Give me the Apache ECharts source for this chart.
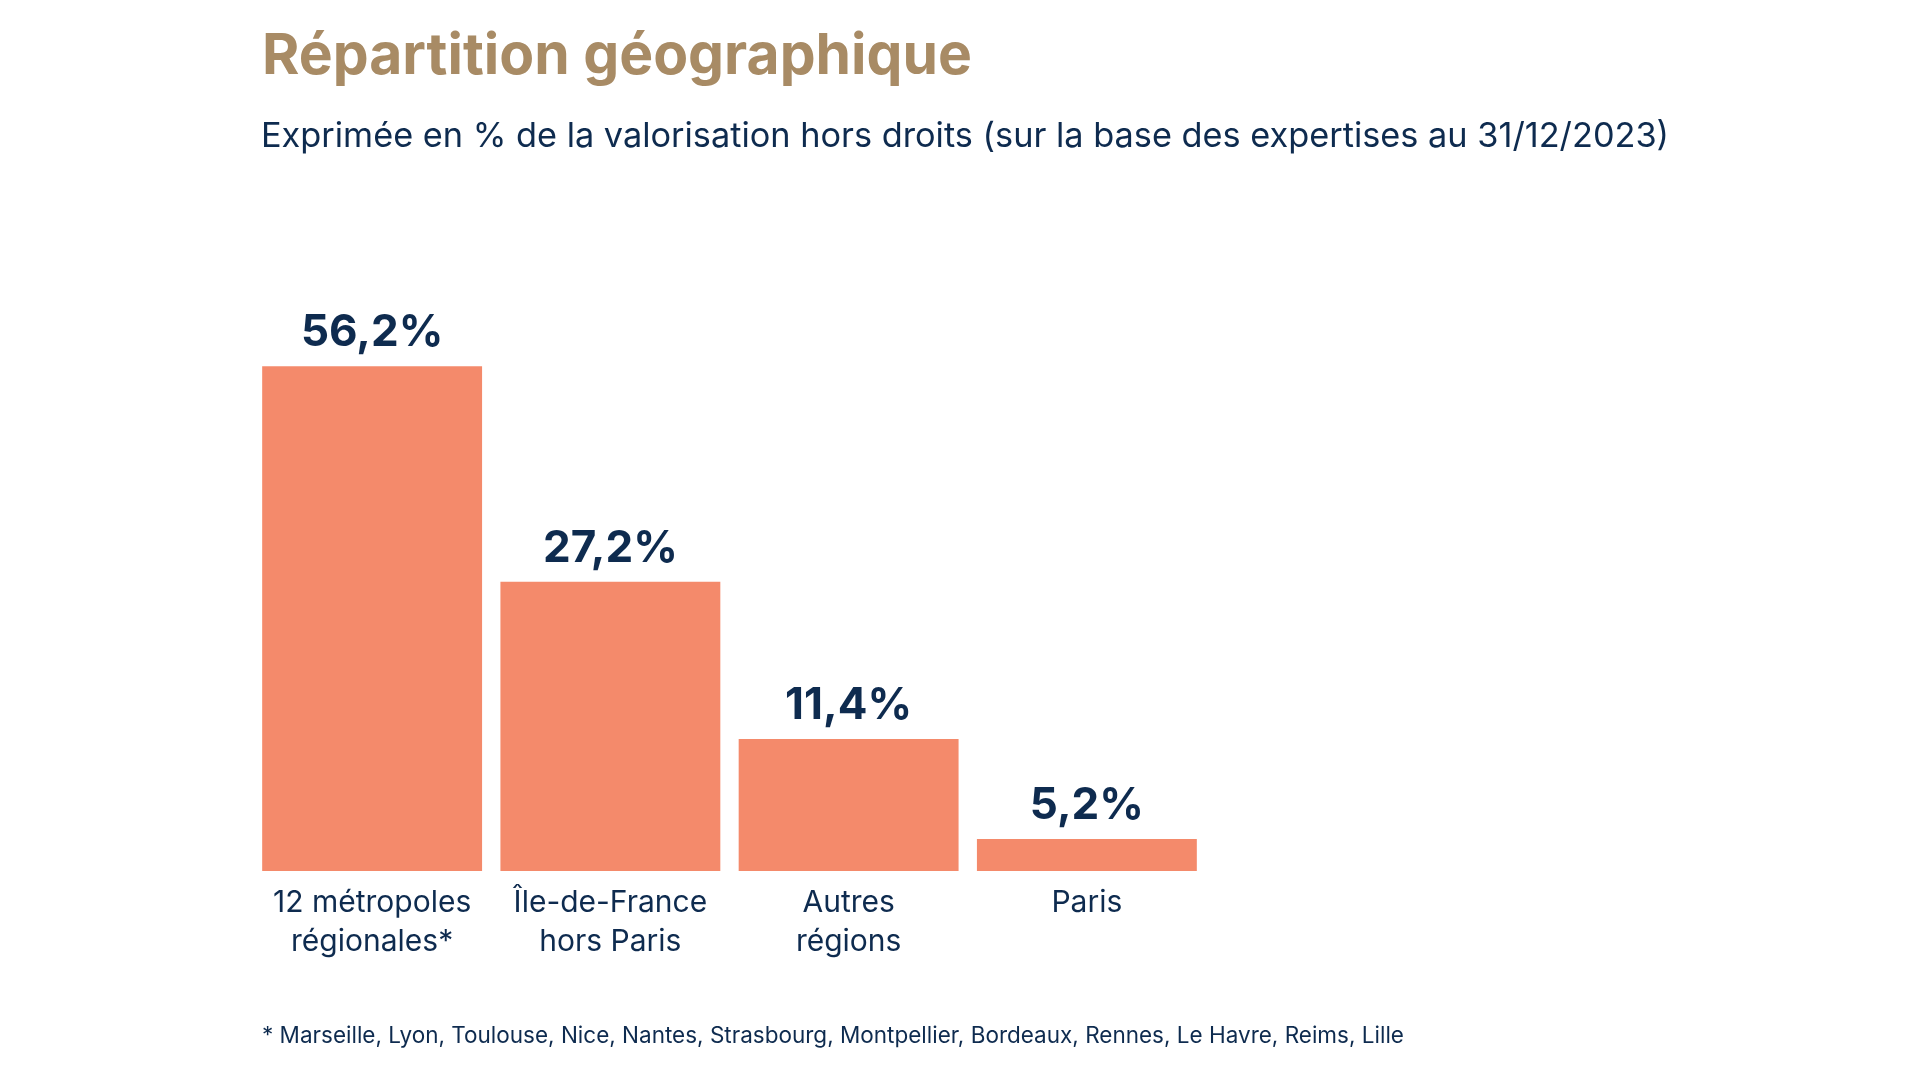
<!DOCTYPE html>
<html>
<head>
<meta charset="utf-8">
<script src="https://cdn.jsdelivr.net/npm/echarts@6/dist/echarts.min.js"></script>
<style>
html,body{margin:0;padding:0;background:#fff;}
#chart{width:1920px;height:1080px;}
</style>
</head>
<body>
<div id="chart"></div>
<script>
// Data
const categories = ['12 métropoles\nrégionales*', 'Île-de-France\nhors Paris', 'Autres\nrégions', 'Paris'];
const shareValues = [56.2, 27.2, 11.4, 5.2];           // % shown above the bars
const drawnBarHeights = [56.2, 32.2, 14.7, 3.55];        // bar heights as drawn in the reference (same % scale)
const titleText = 'Répartition géographique';
const subtitleText = 'Exprimée en % de la valorisation hors droits (sur la base des expertises au 31/12/2023)';
const footnoteText = '* Marseille, Lyon, Toulouse, Nice, Nantes, Strasbourg, Montpellier, Bordeaux, Rennes, Le Havre, Reims, Lille';

const NAVY = '#0E2B4F';
const fmt = v => v.toFixed(1).replace('.', ',') + '%';

const chart = echarts.init(document.getElementById('chart'));
chart.setOption({
  backgroundColor: '#ffffff',
  animation: false,
  title: [
    { text: titleText, left: 257, top: 23,
      textStyle: { fontFamily: 'Inter', fontWeight: 700, fontSize: 57, color: '#A88B65' } },
    { text: subtitleText, left: 256, top: 115,
      textStyle: { fontFamily: 'Inter', fontWeight: 400, fontSize: 34.3, color: NAVY } },
    { text: footnoteText, left: 257, top: 1020,
      textStyle: { fontFamily: 'Inter', fontWeight: 400, fontSize: 22.5, color: NAVY } }
  ],
  grid: { left: 253, width: 953, top: 332, bottom: 209, containLabel: false },
  xAxis: {
    type: 'category',
    data: categories,
    axisLine: { show: false },
    axisTick: { show: false },
    axisLabel: { interval: 0, margin: 12, fontFamily: 'Inter', fontSize: 30, lineHeight: 39, color: NAVY, verticalAlign: 'top' }
  },
  yAxis: {
    type: 'value', min: 0, max: 60, interval: 10,
    show: false, splitLine: { show: false }
  },
  series: [{
    type: 'bar',
    data: drawnBarHeights.map((h, i) => ({ value: h, label: { formatter: fmt(shareValues[i]) } })),
    barCategoryGap: '7.7%',
    itemStyle: { color: '#F48A6B' },
    label: {
      show: true, position: 'top', distance: 11,
      fontFamily: 'Inter', fontWeight: 700, fontSize: 44, color: NAVY
    }
  }]
});
</script>
</body>
</html>
